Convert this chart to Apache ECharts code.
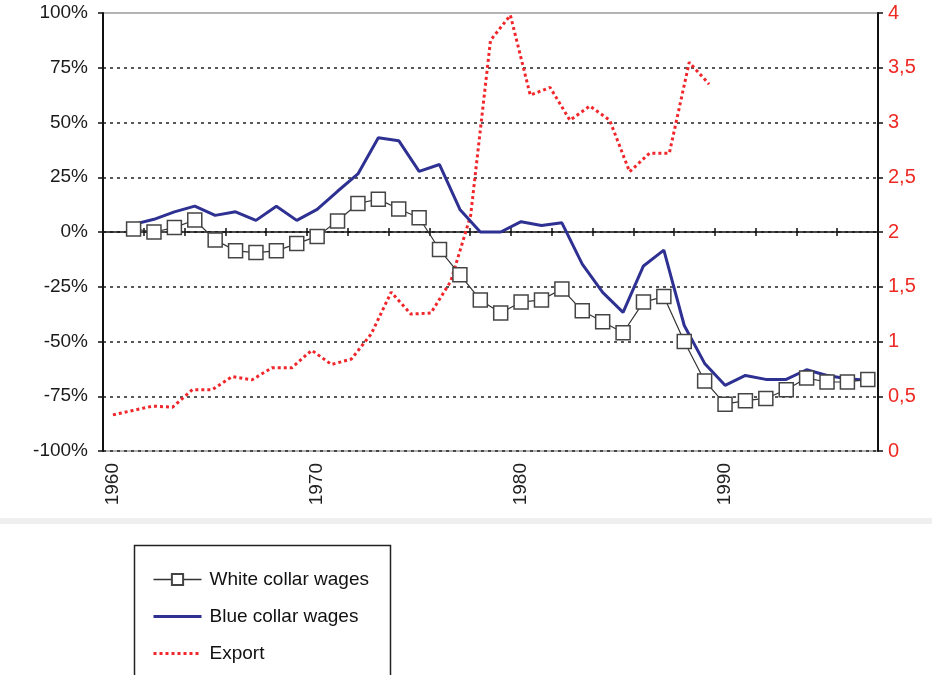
<!DOCTYPE html>
<html>
<head>
<meta charset="utf-8">
<script src="https://cdn.jsdelivr.net/npm/echarts@6/dist/echarts.min.js"></script>
<style>
html,body{margin:0;padding:0;background:#fff;}
#chart{width:932px;height:675px;}
</style>
</head>
<body>
<div id="chart"></div>
<script>
// ---- data ----
var years = ['1960','1961','1962','1963','1964','1965','1966','1967','1968','1969',
             '1970','1971','1972','1973','1974','1975','1976','1977','1978','1979',
             '1980','1981','1982','1983','1984','1985','1986','1987','1988','1989',
             '1990','1991','1992','1993','1994','1995','1996','1997'];
// export is plotted on its own (secondary, hidden) category scale
var exportPeriods = ['1960','1961','1962','1963','1964','1965','1966','1967','1968','1969',
             '1970','1971','1972','1973','1974','1975','1976','1977','1978','1979',
             '1980','1981','1982','1983','1984','1985','1986','1987','1988','1989',
             '1990','1991','1992','1993','1994','1995','1996','1997','1998'];
var whiteCollar = [null, 1.4, 0, 2, 5.5, -3.6, -8.6, -9.4, -8.6, -5.3,
                   -2, 5, 13, 15, 10.5, 6.5, -8, -19.5, -31, -37,
                   -32, -31, -26, -36, -41, -46, -32, -29.5, -50, -68,
                   -78.6, -77, -76, -72, -66.7, -68.5, -68.5, -67.3];
var blueCollar = [null, 3.5, 5.8, 9.2, 11.8, 7.6, 9.2, 5.3, 11.8, 5.3,
                  10.3, 18.6, 26.5, 43, 41.7, 27.7, 30.8, 10.3, 0, 0,
                  4.7, 3, 4.2, -14.7, -27.6, -36.7, -15.5, -8.3, -42.7, -60,
                  -70, -65.5, -67.3, -67.3, -62.9, -65.5, -67, -67.7];
var exportVals = [0.33, 0.37, 0.41, 0.40, 0.56, 0.56, 0.68, 0.65, 0.76, 0.76,
                  0.92, 0.79, 0.84, 1.07, 1.45, 1.25, 1.26, 1.55, 2.15, 3.75,
                  3.98, 3.25, 3.32, 3.02, 3.15, 3.02, 2.55, 2.72, 2.72, 3.55, 3.35];
var leftTicks = {min: -100, max: 100, interval: 25};
var rightTicks = {min: 0, max: 4, interval: 0.5};

var FONT = 'Liberation Sans, Arial, sans-serif';
var chart = echarts.init(document.getElementById('chart'), null, {renderer: 'canvas'});

var option = {
  backgroundColor: '#ffffff',
  animation: false,
  textStyle: {fontFamily: FONT},
  grid: {left: 103, right: 54, top: 13, bottom: 224, show: true,
         borderColor: '#9a9a9a', borderWidth: 1.5, backgroundColor: 'transparent'},
  graphic: [
    {type: 'rect', left: 0, top: 518, shape: {width: 932, height: 6},
     style: {fill: '#efefef'}, silent: true, z: -1},
    {type: 'rect', left: 132, top: 543, shape: {x: 0, y: 0, width: 256, height: 200},
     style: {fill: 'none', stroke: '#222', lineWidth: 1.5}, silent: true, z: 10}
  ],
  legend: {
    orient: 'vertical', left: 134, top: 570,
    padding: [0, 18, 0, 18], itemGap: 18,
    itemWidth: 48, itemHeight: 14,
    textStyle: {fontFamily: FONT, fontSize: 19, color: '#111', padding: [0, 0, 0, 3]},
    data: [
      {name: 'White collar wages', lineStyle: {width: 1.5}},
      {name: 'Blue collar wages', itemStyle: {opacity: 0}, lineStyle: {width: 3}},
      {name: 'Export', itemStyle: {opacity: 0}, lineStyle: {width: 3}}
    ]
  },
  xAxis: [
    { // label axis at bottom
      type: 'category', data: years, position: 'bottom', boundaryGap: true,
      axisLine: {show: false, onZero: false}, axisTick: {show: false},
      axisLabel: {interval: 9, rotate: 90, fontSize: 19, color: '#222', margin: 12, fontFamily: FONT},
      splitLine: {show: false}
    },
    { // zero line with ticks (upper half)
      type: 'category', data: years, position: 'top', boundaryGap: true,
      axisLine: {show: true, onZero: true, onZeroAxisIndex: 0, lineStyle: {color: '#111', width: 1.5}},
      axisTick: {show: true, length: 4, lineStyle: {color: '#111', width: 1.5}},
      axisLabel: {show: false}, splitLine: {show: false}
    },
    { // zero line ticks (lower half)
      type: 'category', data: years, position: 'bottom', boundaryGap: true,
      axisLine: {show: false, onZero: true, onZeroAxisIndex: 0},
      axisTick: {show: true, length: 4, lineStyle: {color: '#111', width: 1.5}},
      axisLabel: {show: false}, splitLine: {show: false}
    },
    { // hidden axis for export
      type: 'category', data: exportPeriods, position: 'top', boundaryGap: true, show: false
    }
  ],
  yAxis: [
    {
      type: 'value', position: 'left', min: leftTicks.min, max: leftTicks.max, interval: leftTicks.interval,
      axisLine: {show: true, lineStyle: {color: '#111', width: 2}},
      axisTick: {show: true, length: 5, lineStyle: {color: '#111', width: 1.5}},
      axisLabel: {formatter: '{value}%', fontSize: 19, color: '#1a1a1a', margin: 15, fontFamily: FONT},
      splitLine: {show: true, showMaxLine: false, lineStyle: {color: '#222', width: 1.5, type: [3, 4]}}
    },
    {
      type: 'value', position: 'right', min: rightTicks.min, max: rightTicks.max, interval: rightTicks.interval,
      axisLine: {show: true, lineStyle: {color: '#111', width: 2}},
      axisTick: {show: true, length: 5, lineStyle: {color: '#111', width: 1.5}},
      axisLabel: {formatter: function (v) { return String(v).replace('.', ','); },
                  fontSize: 20, color: '#ee2a24', margin: 10, fontFamily: FONT},
      splitLine: {show: false}
    }
  ],
  series: [
    {
      name: 'Export', type: 'line', xAxisIndex: 3, yAxisIndex: 1, data: exportVals,
      symbol: 'none', z: 3,
      lineStyle: {color: '#f0262b', width: 3, type: [3, 3], cap: 'butt'},
      itemStyle: {color: '#f0262b'}
    },
    {
      name: 'Blue collar wages', type: 'line', xAxisIndex: 0, yAxisIndex: 0, data: blueCollar,
      symbol: 'none', z: 4,
      lineStyle: {color: '#2e3192', width: 3},
      itemStyle: {color: '#2e3192'}
    },
    {
      name: 'White collar wages', type: 'line', xAxisIndex: 0, yAxisIndex: 0, data: whiteCollar,
      symbol: 'rect', symbolSize: 14, showSymbol: true, showAllSymbol: true, z: 5,
      lineStyle: {color: '#333', width: 1.2},
      itemStyle: {color: '#ffffff', borderColor: '#444', borderWidth: 1.5}
    }
  ]
};
chart.setOption(option);
</script>
</body>
</html>
